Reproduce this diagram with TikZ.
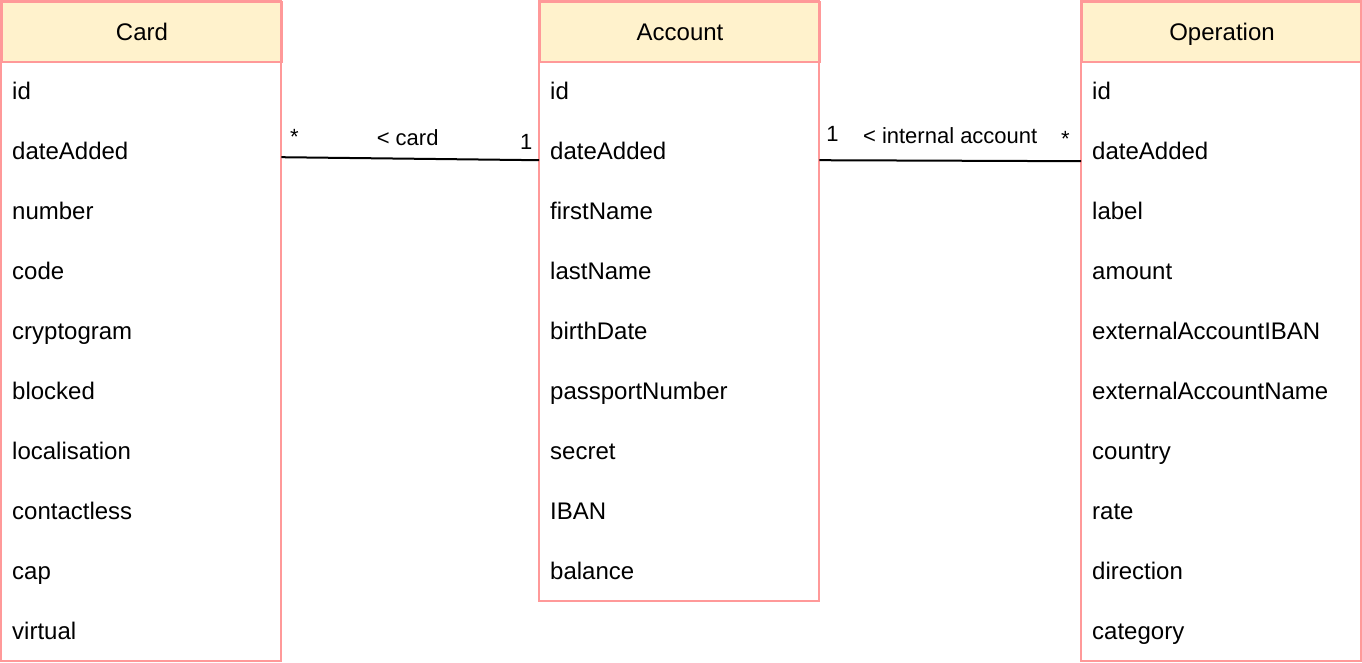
\documentclass[tikz,border=0pt]{standalone}
\usepackage{fontspec}
\setmainfont{Liberation Sans}
\usetikzlibrary{positioning,calc}
\definecolor{umlborder}{HTML}{FF9999}
\definecolor{umlhead}{HTML}{FFF2CC}
\tikzset{
	classhead/.style={draw=umlborder, fill=umlhead, line width=2pt, anchor=north west,
			minimum width=280pt, minimum height=60pt, inner sep=0pt,
			text height=19pt, text depth=3pt,
			font=\fontsize{24}{28}\selectfont},
	field/.style={anchor=north west, minimum width=280pt, minimum height=60pt,
			inner xsep=11pt, inner ysep=0pt, text width=258pt, align=left,
			text height=19pt, text depth=3pt,
			font=\fontsize{24}{28}\selectfont},
	classbox/.style={draw=umlborder, line width=2pt},
	assoc/.style={draw=black, line width=2pt},
	mult/.style={above, inner sep=12pt, font=\fontsize{22}{26}\selectfont}
}

\begin{document}
\begin{tikzpicture}[x=1pt, y=-1pt]
	\useasboundingbox (0,0) rectangle (1362,662);

	% Card
	\node[classhead] (card) at (1,1) {Card};
	\foreach \f [count=\i] in {id,dateAdded,number,code,cryptogram,blocked,localisation,contactless,cap,virtual}
		\node[field] (card\i) at (1,1+60*\i) {\f};
	\draw[classbox] (card.north west) rectangle (card10.south east);

	% Account
	\node[classhead] (acc) at (539,1) {Account};
	\foreach \f [count=\i] in {id,dateAdded,firstName,lastName,birthDate,passportNumber,secret,IBAN,balance}
		\node[field] (acc\i) at (539,1+60*\i) {\f};
	\draw[classbox] (acc.north west) rectangle (acc9.south east);

	% Operation
	\node[classhead] (op) at (1081,1) {Operation};
	\foreach \f [count=\i] in {id,dateAdded,label,amount,externalAccountIBAN,externalAccountName,country,rate,direction,category}
		\node[field] (op\i) at (1081,1+60*\i) {\f};
	\draw[classbox] (op.north west) rectangle (op10.south east);

	% associations
	\draw[assoc] ([yshift=-6pt]card2.east) -- ([yshift=-9pt]acc2.west)
		node[mult, pos=0.05] {*}
		node[mult, pos=0.49] {< card}
		node[mult, pos=0.95, yshift=-2pt] {1};
	\draw[assoc] ([yshift=-9pt]acc2.east) -- ([yshift=-10pt]op2.west)
		node[mult, pos=0.05, yshift=6pt] {1}
		node[mult, pos=0.50, yshift=4pt] {< internal account}
		node[mult, pos=0.94, yshift=2pt] {*};
\end{tikzpicture}
\end{document}
